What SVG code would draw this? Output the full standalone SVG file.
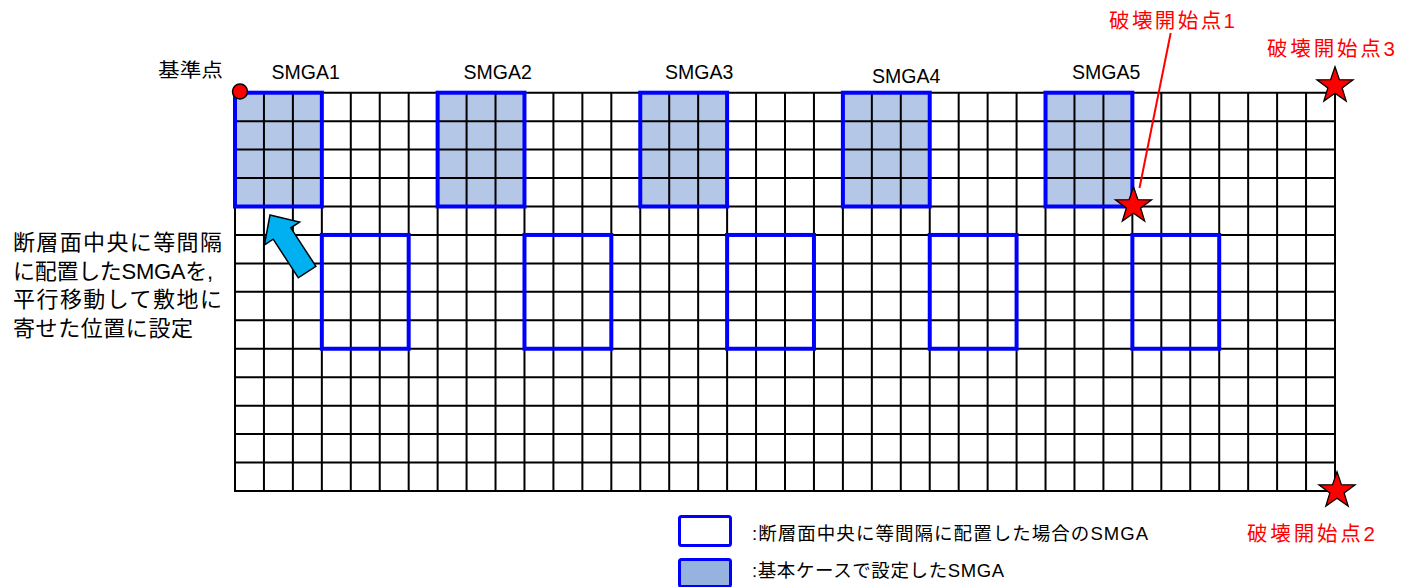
<svg xmlns="http://www.w3.org/2000/svg" width="1417" height="587" viewBox="0 0 1417 587">
<style>
text{font-family:"Liberation Sans","Noto Sans CJK JP",sans-serif;fill:#000}
.red{fill:#FF0000}
.shade{fill:#B4C7E7;stroke:none}
.smga{fill:none;stroke:#0000FF;stroke-width:4}
.grid{fill:none;stroke:#000;stroke-width:2}
.star{fill:#FF0000;stroke:#000;stroke-width:1.3;stroke-linejoin:miter}
</style>
<defs>
<path id="star" d="M0,-19 L4.41,-6.07 L18.07,-5.87 L7.13,2.32 L11.17,15.37 L0,7.5 L-11.17,15.37 L-7.13,2.32 L-18.07,-5.87 L-4.41,-6.07 Z"/>
</defs>
<rect width="1417" height="587" fill="#fff"/>
<g id="shaded-fill">
<rect class="shade" x="235" y="92.7" width="86.84" height="113.8"/>
<rect class="shade" x="437.63" y="92.7" width="86.84" height="113.8"/>
<rect class="shade" x="640.26" y="92.7" width="86.84" height="113.8"/>
<rect class="shade" x="842.89" y="92.7" width="86.84" height="113.8"/>
<rect class="shade" x="1045.53" y="92.7" width="86.84" height="113.8"/>
</g>
<g id="grid">
<path class="grid" d="M235,92.7V491M263.95,92.7V491M292.89,92.7V491M321.84,92.7V491M350.79,92.7V491M379.74,92.7V491M408.68,92.7V491M437.63,92.7V491M466.58,92.7V491M495.53,92.7V491M524.47,92.7V491M553.42,92.7V491M582.37,92.7V491M611.32,92.7V491M640.26,92.7V491M669.21,92.7V491M698.16,92.7V491M727.11,92.7V491M756.05,92.7V491M785,92.7V491M813.95,92.7V491M842.89,92.7V491M871.84,92.7V491M900.79,92.7V491M929.74,92.7V491M958.68,92.7V491M987.63,92.7V491M1016.58,92.7V491M1045.53,92.7V491M1074.47,92.7V491M1103.42,92.7V491M1132.37,92.7V491M1161.32,92.7V491M1190.26,92.7V491M1219.21,92.7V491M1248.16,92.7V491M1277.11,92.7V491M1306.05,92.7V491M1335,92.7V491"/>
<path class="grid" d="M234,92.7H1336M234,121.15H1336M234,149.6H1336M234,178.05H1336M234,206.5H1336M234,234.95H1336M234,263.4H1336M234,291.85H1336M234,320.3H1336M234,348.75H1336M234,377.2H1336M234,405.65H1336M234,434.1H1336M234,462.55H1336M234,491H1336"/>
</g>
<g id="smga-base">
<rect class="smga" x="235" y="92.7" width="86.84" height="113.8"/>
<rect class="smga" x="437.63" y="92.7" width="86.84" height="113.8"/>
<rect class="smga" x="640.26" y="92.7" width="86.84" height="113.8"/>
<rect class="smga" x="842.89" y="92.7" width="86.84" height="113.8"/>
<rect class="smga" x="1045.53" y="92.7" width="86.84" height="113.8"/>
</g>
<g id="smga-center">
<rect class="smga" x="321.84" y="234.95" width="86.84" height="113.8"/>
<rect class="smga" x="524.47" y="234.95" width="86.84" height="113.8"/>
<rect class="smga" x="727.11" y="234.95" width="86.84" height="113.8"/>
<rect class="smga" x="929.74" y="234.95" width="86.84" height="113.8"/>
<rect class="smga" x="1132.37" y="234.95" width="86.84" height="113.8"/>
</g>
<g id="labels-smga" font-size="19.5">
<text x="271.5" y="78.5">SMGA1</text>
<text x="463.5" y="78.5">SMGA2</text>
<text x="665" y="78.5">SMGA3</text>
<text x="872" y="82.5">SMGA4</text>
<text x="1072" y="78.5">SMGA5</text>
</g>
<g id="origin">
<text x="158" y="76.5" font-size="19.5" textLength="65" lengthAdjust="spacingAndGlyphs">基準点</text>
<circle cx="240" cy="91.5" r="7.5" fill="#FF0000" stroke="#000" stroke-width="1.5"/>
</g>
<g id="connectors">
<line x1="1170.7" y1="33" x2="1139.5" y2="188" stroke="#FF0000" stroke-width="2"/>
<polygon points="270,215 299.6,222.1 290.8,227.8 315.9,266.4 298.3,277.8 273.2,239.2 264.4,244.9" fill="#00B0F0" stroke="#000" stroke-width="1.5" stroke-linejoin="miter"/>
</g>
<g id="rupture1">
<use href="#star" class="star" x="1133.5" y="205.7"/>
<text class="red" x="1109" y="27.5" font-size="20.5" textLength="126">破壊開始点1</text>
</g>
<g id="rupture2">
<use href="#star" class="star" x="1337" y="490.7"/>
<text class="red" x="1247" y="540.5" font-size="20.5" textLength="128">破壊開始点2</text>
</g>
<g id="rupture3">
<use href="#star" class="star" x="1335" y="85.7"/>
<text class="red" x="1267" y="55.5" font-size="20.5" textLength="128">破壊開始点3</text>
</g>
<g id="note" font-size="22">
<text x="13" y="250" textLength="209">断層面中央に等間隔</text>
<text x="13" y="278.5" textLength="200">に配置したSMGAを,</text>
<text x="13" y="307" textLength="209">平行移動して敷地に</text>
<text x="13" y="335.5" textLength="180">寄せた位置に設定</text>
</g>
<g id="legend">
<rect x="679.5" y="516.5" width="51" height="29" rx="2" fill="#fff" stroke="#0000FF" stroke-width="3"/>
<text x="752" y="539.5" font-size="18.5" textLength="396">:断層面中央に等間隔に配置した場合のSMGA</text>
<rect x="679.5" y="559.5" width="51" height="27" rx="2" fill="#95B3DE" stroke="#0000FF" stroke-width="3"/>
<text x="752" y="577" font-size="18.5" textLength="252">:基本ケースで設定したSMGA</text>
</g>
</svg>
